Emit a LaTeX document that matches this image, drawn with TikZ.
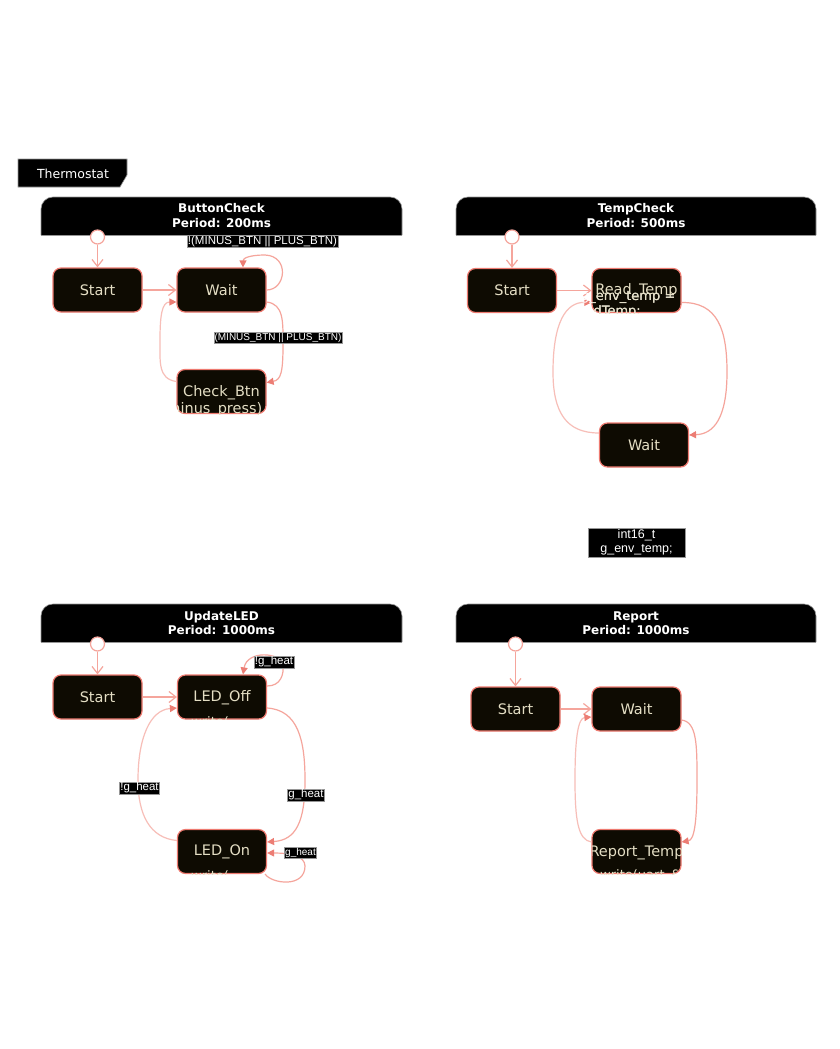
\documentclass[tikz,border=0pt]{standalone}
\usepackage{fontspec}
\setmainfont{DejaVu Sans}
\newfontfamily\labfont{Liberation Sans}
\usetikzlibrary{arrows.meta,calc}
\definecolor{statefill}{RGB}{14,11,2}
\definecolor{stateline}{RGB}{238,122,112}
\definecolor{beige}{RGB}{228,222,196}
\definecolor{edgecol}{RGB}{245,165,156}
\definecolor{backcol}{RGB}{247,190,184}
\definecolor{tipcol}{RGB}{236,125,116}
\definecolor{hdrline}{RGB}{150,150,150}
\tikzset{
 statebox/.style={draw=stateline, fill=statefill, line width=1.2pt, rounded corners=8pt, minimum width=89pt, minimum height=44pt, inner sep=0pt, text=beige, font=\fontsize{14.5}{17}\selectfont},
 stxt/.style={text=beige, inner sep=0pt, font=\fontsize{14.5}{17}\selectfont},
 otxt/.style={text=beige, inner sep=0pt, font=\fontsize{13}{15}\selectfont},
 wtxt/.style={text=white, inner sep=0pt, font=\fontsize{13}{15}\selectfont},
 initc/.style={circle, draw=edgecol, fill=white, line width=1.2pt, minimum size=14pt, inner sep=0pt},
 edge/.style={draw=edgecol, line width=1.2pt},
 backedge/.style={draw=backcol, line width=1.2pt},
 opentip/.style={-{Straight Barb[length=7pt,width=11pt]}},
 filltip/.style={-{Triangle[length=7pt,width=7pt,color=tipcol]}},
 lab/.style={fill=black, draw=hdrline, line width=0.4pt, text=white, inner sep=0.8pt, font=\labfont\fontsize{11.5}{12}\selectfont},
 smalllab/.style={lab, font=\labfont\fontsize{10}{11}\selectfont},
 hdr/.style={fill=black, draw=hdrline, line width=0.6pt, rounded corners=12pt},
 hdrtxt/.style={text=white, align=center, inner sep=0pt, font=\bfseries\fontsize{12}{14.5}\selectfont},
}
\begin{document}
\begin{tikzpicture}[x=1pt,y=-1pt]
\useasboundingbox (0,0) rectangle (840,1049);
\fill[white] (0,0) rectangle (840,1049);

% tab
\path[fill=black, draw=hdrline, line width=0.6pt] (18,159) -- (127,159) -- (127,175) -- (120,187) -- (18,187) -- cycle;
\node[text=white, inner sep=0pt, font=\fontsize{12.5}{14}\selectfont] (tab) at (73,174) {Thermostat};

% headers
\path[hdr] (41,235) -- (41,197) -- (402,197) -- (402,235);
\draw[hdrline, line width=0.6pt] (41,235) -- (402,235);
\node[hdrtxt] (h1) at (221.5,215.5) {ButtonCheck\\Period: 200ms};
\path[hdr] (456,235) -- (456,197) -- (816,197) -- (816,235);
\draw[hdrline, line width=0.6pt] (456,235) -- (816,235);
\node[hdrtxt] (h2) at (636,215.5) {TempCheck\\Period: 500ms};
\path[hdr] (41,642) -- (41,604) -- (402,604) -- (402,642);
\draw[hdrline, line width=0.6pt] (41,642) -- (402,642);
\node[hdrtxt] (h3) at (221.5,623) {UpdateLED\\Period: 1000ms};
\path[hdr] (456,642) -- (456,604) -- (816,604) -- (816,642);
\draw[hdrline, line width=0.6pt] (456,642) -- (816,642);
\node[hdrtxt] (h4) at (636,623) {Report\\Period: 1000ms};

% states
\node[statebox] (bs) at (97.5,290) {Start};
\node[statebox] (bw) at (221.5,290) {Wait};
\node[statebox] (bc) at (221.5,391.5) {};
\node[statebox] (ts) at (512,290.5) {Start};
\node[statebox] (tr) at (636.5,290.5) {};
\node[statebox] (tw) at (644,445) {Wait};
\node[statebox] (ls) at (97.5,697) {Start};
\node[statebox] (lo) at (222,697) {};
\node[statebox] (ln) at (222,851.5) {};
\node[statebox] (rs) at (515.5,709) {Start};
\node[statebox] (rw) at (636.5,709) {Wait};
\node[statebox] (rt) at (636.5,851.5) {};

% initial pseudo-states
\node[initc] (i1) at (97.5,237) {};
\node[initc] (i2) at (512,237) {};
\node[initc] (i3) at (97.5,644) {};
\node[initc] (i4) at (515.5,644) {};

% ButtonCheck edges
\draw[edge, opentip] (i1) -- (bs.north);
\draw[edge, opentip] (bs.east) -- (bw.west);
\draw[edge, filltip] (bw.east) .. controls (286,290) and (290,256) .. (265,255) .. controls (250,255) and (243,258) .. ($(bw.north)+(21.5,0)$);
\draw[edge, filltip] ($(bw.east)+(0,12)$) .. controls (284,304) and (283,322) .. (283,345) .. controls (283,372) and (281,380) .. ($(bc.east)+(0,-9)$);
\draw[backedge, filltip] ($(bc.west)+(0,-10)$) .. controls (158,379) and (160,362) .. (160,340) .. controls (160,315) and (162,302) .. ($(bw.west)+(0,12)$);

% TempCheck edges
\draw[edge, opentip] (i2) -- (ts.north);
\draw[edge, opentip] (ts.east) -- (tr.west);
\draw[edge, filltip] ($(tr.east)+(0,12)$) .. controls (718,302) and (727,330) .. (727,372) .. controls (727,418) and (714,434) .. ($(tw.east)+(0,-10)$);
\draw[backedge, filltip] ($(tw.west)+(0,-12)$) .. controls (566,433) and (553,412) .. (553,372) .. controls (553,322) and (566,302) .. ($(tr.west)+(0,12)$);

% UpdateLED edges
\draw[edge, opentip] (i3) -- (ls.north);
\draw[edge, opentip] (ls.east) -- (lo.west);
\draw[edge, filltip] ($(lo.east)+(0,-11)$) .. controls (281,686) and (284,674) .. (283,665) .. controls (281,652) and (247,650) .. ($(lo.north)+(21,0)$);
\draw[edge, filltip] ($(lo.east)+(0,11)$) .. controls (298,710) and (305,740) .. (305,780) .. controls (305,822) and (296,840) .. ($(ln.east)+(0,-9.5)$);
\draw[backedge, filltip] ($(ln.west)+(0,-11)$) .. controls (150,838) and (138,815) .. (138,780) .. controls (138,738) and (150,710) .. ($(lo.west)+(0,11)$);
\draw[edge, filltip] ($(ln.south east)+(-2,0)$) .. controls (272,884) and (305,888) .. (305,866) .. controls (305,856) and (290,853) .. ($(ln.east)+(0,1.5)$);

% Report edges
\draw[edge, opentip] (i4) -- (rs.north);
\draw[edge, opentip] (rs.east) -- (rw.west);
\draw[edge, filltip] ($(rw.east)+(0,11)$) .. controls (697,722) and (697,745) .. (697,780) .. controls (697,825) and (694,840) .. ($(rt.east)+(0,-9.5)$);
\draw[backedge, filltip] ($(rt.west)+(0,-9.5)$) .. controls (578,840) and (575,820) .. (575,780) .. controls (575,738) and (578,718) .. ($(rw.west)+(0,8)$);

% edge labels
\node[lab] (l1) at (262.5,241.5) {!(MINUS\_BTN || PLUS\_BTN)};
\node[smalllab] (l2) at (278,337.5) {(MINUS\_BTN || PLUS\_BTN)};
\node[lab] (l3) at (274,662) {!g\_heat};
\node[lab] (l4) at (306,795) {g\_heat};
\node[lab] (l5) at (139.5,788) {!g\_heat};
\node[smalllab] (l6) at (300.5,853) {g\_heat};

% global variable note
\node[fill=black, draw=hdrline, line width=0.4pt, text=white, align=center, minimum width=97pt, minimum height=29pt, inner sep=0pt, font=\labfont\fontsize{12.5}{13.5}\selectfont] (glob) at (636.5,542.5) {int16\_t\\g\_env\_temp;};

% overflowing state texts (white where they leave the box)
\node[wtxt, anchor=west] (t2w) at (581,297) {g\_env\_temp =};
\node[wtxt, anchor=east] (t3w) at (641,312) {readTemp;};
\begin{scope}
\clip[rounded corners=8pt] (tr.south west) rectangle (tr.north east);
\node[otxt, anchor=west] (t2) at (581,297) {g\_env\_temp =};
\node[otxt, anchor=east] (t3) at (641,312) {readTemp;};
\node[stxt] (t1) at (636.5,291) {Read\_Temp};
\end{scope}
\begin{scope}
\clip[rounded corners=8pt] (bc.south west) rectangle (bc.north east);
\node[stxt] (c1) at (221.5,393) {Check\_Btn};
\node[stxt, anchor=east] (c2) at (262.5,410) {(minus\_press)};
\end{scope}
\begin{scope}
\clip[rounded corners=8pt] (lo.south west) rectangle (lo.north east);
\node[stxt] (o1) at (222,697.5) {LED\_Off};
\node[otxt, anchor=base west] (o2) at (191,726.5) {write(};
\end{scope}
\begin{scope}
\clip[rounded corners=8pt] (ln.south west) rectangle (ln.north east);
\node[stxt] (n1) at (222,852) {LED\_On};
\node[otxt, anchor=base west] (n2) at (191,880.5) {write(};
\end{scope}
\begin{scope}
\clip[rounded corners=8pt] (rt.south west) rectangle (rt.north east);
\node[stxt] (r1) at (636.5,853) {Report\_Temp};
\node[otxt, anchor=base west] (r2) at (600,879) {write(uart\_\&};
\end{scope}
\end{tikzpicture}
\end{document}
